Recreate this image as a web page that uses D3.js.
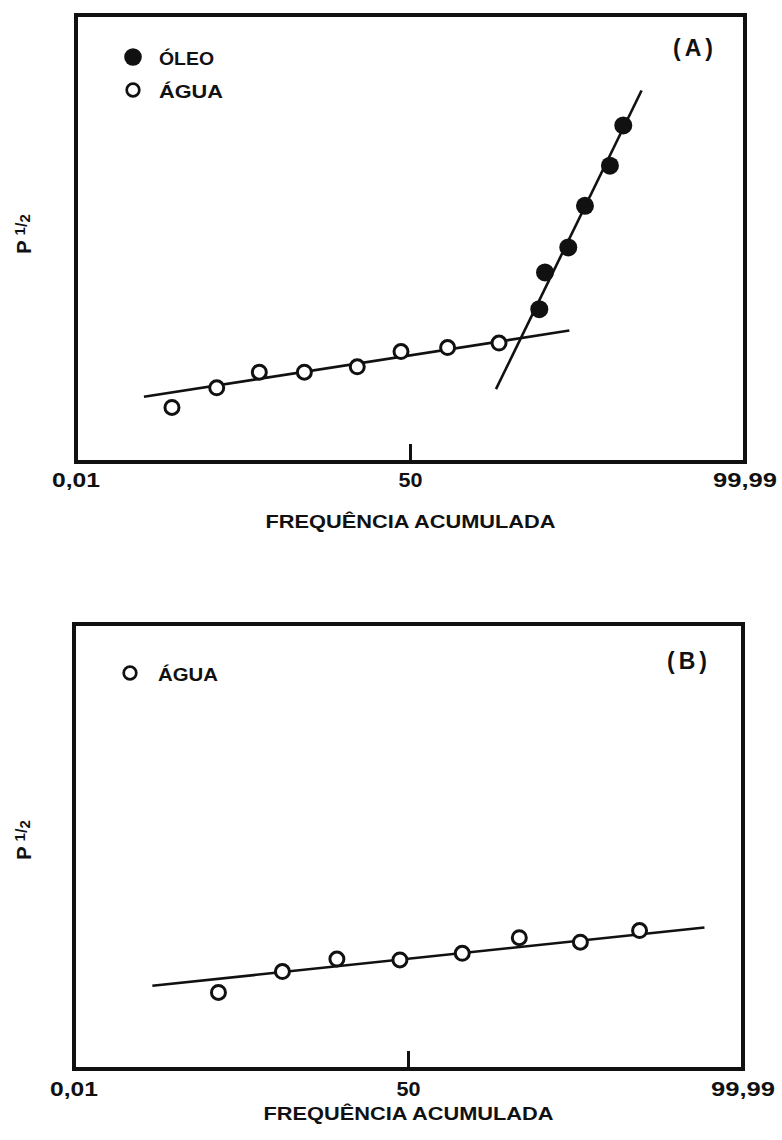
<!DOCTYPE html>
<html>
<head>
<meta charset="utf-8">
<script src="https://cdn.jsdelivr.net/npm/d3@7"></script>
<style>
  html, body { margin: 0; padding: 0; background: #fff; }
  svg { display: block; }
  text { font-family: "Liberation Sans", Arial, sans-serif; fill: #111; }
</style>
</head>
<body>
<svg id="chart" width="782" height="1140"></svg>
<script>
// ---------- DATA ----------
// x: cumulative frequency (%) on a normal-probability axis; y: P^(1/2) (arbitrary units 0-10)
const xTickValues = [0.01, 50, 99.99];
const xTickLabels = ["0,01", "50", "99,99"];

// Panel A
const aguaA_freq = [0.40, 1.56, 4.64, 11.9, 27.7, 45.8, 66.0, 83.75];
const aguaA_p    = [1.22, 1.66, 2.01, 2.01, 2.13, 2.47, 2.56, 2.66];
const oleoA_freq = [92.39, 93.26, 96.03, 97.38, 98.67, 99.10];
const oleoA_p    = [3.42, 4.24, 4.80, 5.73, 6.63, 7.53];
const fitAguaA_freq = [0.152, 96.13];
const fitAguaA_p    = [1.46, 2.94];
const fitOleoA_freq = [82.9, 99.49];
const fitOleoA_p    = [1.63, 8.31];

// Panel B
const aguaB_freq = [1.73, 8.05, 21.3, 46.2, 72.5, 89.1, 97.2, 99.49];
const aguaB_p    = [1.72, 2.19, 2.47, 2.45, 2.60, 2.95, 2.85, 3.11];
const fitAguaB_freq = [0.22, 99.95];
const fitAguaB_p    = [1.87, 3.18];

// ---------- inverse normal CDF (Acklam) ----------
function probit(p) {
  const a = [-3.969683028665376e+01, 2.209460984245205e+02, -2.759285104469687e+02, 1.383577518672690e+02, -3.066479806614716e+01, 2.506628277459239e+00];
  const b = [-5.447609879822406e+01, 1.615858368580409e+02, -1.556989798598866e+02, 6.680131188771972e+01, -1.328068155288572e+01];
  const c = [-7.784894002430293e-03, -3.223964580411365e-01, -2.400758277161838e+00, -2.549732539343734e+00, 4.374664141464968e+00, 2.938163982698783e+00];
  const d = [7.784695709041462e-03, 3.224671290700398e-01, 2.445134137142996e+00, 3.754408661907416e+00];
  const pl = 0.02425, ph = 1 - pl;
  let q, r;
  if (p < pl) {
    q = Math.sqrt(-2 * Math.log(p));
    return (((((c[0]*q+c[1])*q+c[2])*q+c[3])*q+c[4])*q+c[5]) / ((((d[0]*q+d[1])*q+d[2])*q+d[3])*q+1);
  } else if (p <= ph) {
    q = p - 0.5; r = q*q;
    return (((((a[0]*r+a[1])*r+a[2])*r+a[3])*r+a[4])*r+a[5])*q / (((((b[0]*r+b[1])*r+b[2])*r+b[3])*r+b[4])*r+1);
  } else {
    q = Math.sqrt(-2 * Math.log(1 - p));
    return -(((((c[0]*q+c[1])*q+c[2])*q+c[3])*q+c[4])*q+c[5]) / ((((d[0]*q+d[1])*q+d[2])*q+d[3])*q+1);
  }
}
const z = pct => probit(pct / 100);

const svg = d3.select("#chart");

function panel(cfg) {
  const { left, right, top, bottom } = cfg.box;
  const x0 = d3.scaleLinear()
    .domain([z(xTickValues[0]), z(xTickValues[2])])
    .range([left, right]);
  const x = v => x0(z(v));
  const y = d3.scaleLinear().domain([0, 10]).range([bottom, top]);
  const g = svg.append("g");

  // frame
  g.append("rect")
    .attr("x", left).attr("y", top)
    .attr("width", right - left).attr("height", bottom - top)
    .attr("fill", "none").attr("stroke", "#111").attr("stroke-width", 4);

  // 50% tick
  g.append("line")
    .attr("x1", x(xTickValues[1])).attr("x2", x(xTickValues[1]))
    .attr("y1", bottom).attr("y2", bottom - 18)
    .attr("stroke", "#111").attr("stroke-width", 3);

  // tick labels
  const tickW = [48, 24, 64];
  xTickValues.forEach((v, i) => {
    g.append("text")
      .attr("x", x(v)).attr("y", cfg.tickBase)
      .attr("text-anchor", "middle")
      .attr("font-size", 21)
      .attr("font-weight", "bold")
      .attr("textLength", tickW[i]).attr("lengthAdjust", "spacingAndGlyphs")
      .text(xTickLabels[i]);
  });

  // x title
  g.append("text")
    .attr("x", (left + right) / 2).attr("y", cfg.titleBase)
    .attr("text-anchor", "middle")
    .attr("font-size", 19)
    .attr("font-weight", "bold")
    .attr("textLength", 290).attr("lengthAdjust", "spacingAndGlyphs")
    .text("FREQUÊNCIA ACUMULADA");

  // y title
  const yt = g.append("text")
    .attr("transform", `translate(${cfg.ylabY[0]},${cfg.ylabY[1]}) rotate(-90)`)
    .attr("text-anchor", "middle")
    .attr("font-weight", "bold")
    .attr("font-size", 20);
  yt.append("tspan").text("P");
  yt.append("tspan").attr("dx", 5).attr("dy", -6).attr("font-size", 15).text("1");
  yt.append("tspan").attr("dy", 2).attr("font-size", 16).text("/");
  yt.append("tspan").attr("dy", 3).attr("font-size", 15).text("2");

  // panel letter
  g.append("text")
    .attr("x", cfg.letterPos[0]).attr("y", cfg.letterPos[1])
    .attr("text-anchor", "middle")
    .attr("font-size", 23).attr("font-weight", "bold")
    .attr("letter-spacing", 4)
    .text(cfg.letter);

  // fit lines
  const line = d3.line().x(d => x(d[0])).y(d => y(d[1]));
  cfg.fits.forEach(f => {
    g.append("path")
      .datum(d3.zip(f.freq, f.p))
      .attr("d", line)
      .attr("fill", "none").attr("stroke", "#111").attr("stroke-width", 2.6);
  });

  // points
  cfg.series.forEach(s => {
    g.append("g").selectAll("circle")
      .data(d3.zip(s.freq, s.p))
      .join("circle")
      .attr("cx", d => x(d[0])).attr("cy", d => y(d[1]))
      .attr("r", s.filled ? 9 : 7)
      .attr("fill", s.filled ? "#111" : "#fff")
      .attr("stroke", "#111").attr("stroke-width", s.filled ? 0 : 3);
  });

  // legend
  cfg.legend.forEach(l => {
    g.append("circle")
      .attr("cx", l.cx).attr("cy", l.cy)
      .attr("r", l.filled ? 8.8 : 6.3)
      .attr("fill", l.filled ? "#111" : "#fff")
      .attr("stroke", "#111").attr("stroke-width", l.filled ? 0 : 2.7);
    g.append("text")
      .attr("x", l.tx).attr("y", l.cy + 8)
      .attr("font-size", 19).attr("font-weight", "bold")
      .attr("textLength", l.w).attr("lengthAdjust", "spacingAndGlyphs")
      .text(l.label);
  });
}

panel({
  box: { left: 76, right: 745, top: 15, bottom: 462 },
  tickBase: 487, titleBase: 528,
  letter: "(A)", letterPos: [695, 56],
  ylabY: [31, 234],
  fits: [
    { freq: fitAguaA_freq, p: fitAguaA_p },
    { freq: fitOleoA_freq, p: fitOleoA_p }
  ],
  series: [
    { freq: aguaA_freq, p: aguaA_p, filled: false },
    { freq: oleoA_freq, p: oleoA_p, filled: true }
  ],
  legend: [
    { cx: 133, cy: 57, tx: 159, label: "ÓLEO", w: 55, filled: true },
    { cx: 133, cy: 90, tx: 159, label: "ÁGUA", w: 64, filled: false }
  ]
});

panel({
  box: { left: 74, right: 743, top: 624, bottom: 1069 },
  tickBase: 1096, titleBase: 1120,
  letter: "(B)", letterPos: [689, 669],
  ylabY: [31, 840],
  fits: [
    { freq: fitAguaB_freq, p: fitAguaB_p }
  ],
  series: [
    { freq: aguaB_freq, p: aguaB_p, filled: false }
  ],
  legend: [
    { cx: 130, cy: 673, tx: 158, label: "ÁGUA", w: 60, filled: false }
  ]
});
</script>
</body>
</html>
